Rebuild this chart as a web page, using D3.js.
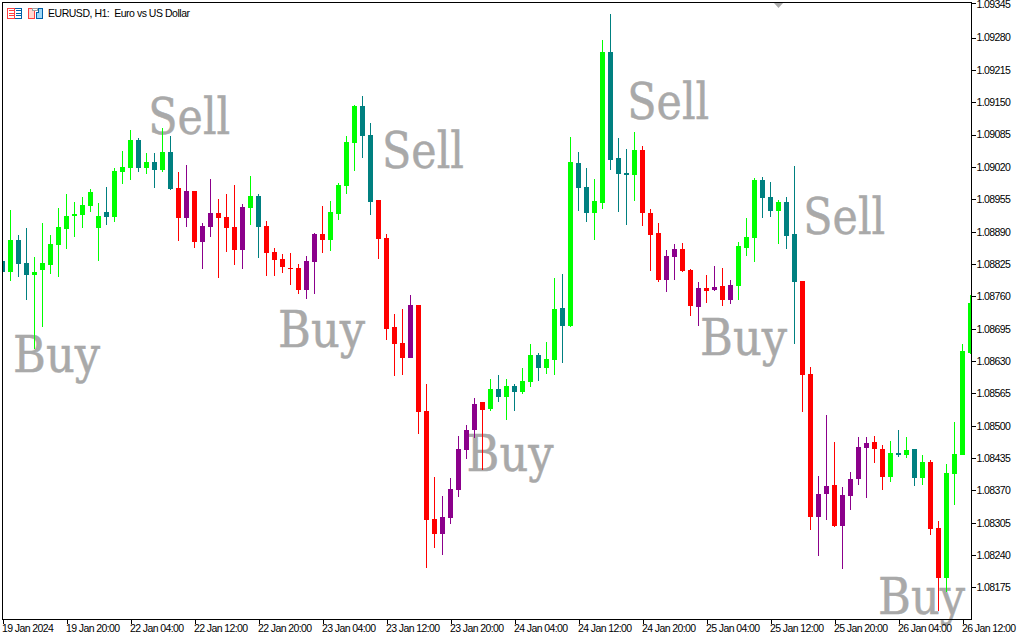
<!DOCTYPE html>
<html><head><meta charset="utf-8">
<script src="https://cdn.jsdelivr.net/npm/d3@7/dist/d3.min.js"></script>
<style>
html,body{margin:0;padding:0;background:#fff;overflow:hidden}
svg{display:block}
.tk text{font-family:"Liberation Sans",Arial,sans-serif;font-size:10.5px;fill:#000;letter-spacing:-.6px}
</style></head><body><svg id="c" width="1024" height="640"></svg>
<script>
const title = "EURUSD, H1:  Euro vs US Dollar";
const priceTicks = [1.08175,1.08240,1.08305,1.08370,1.08435,1.08500,1.08565,1.08630,1.08695,1.08760,1.08825,1.08890,1.08955,1.09020,1.09085,1.09150,1.09215,1.09280,1.09345];
const timeTickIndex = [0,8,16,24,32,40,48,56,64,72,80,88,96,104,112,120];
const timeTickLabels = ["19 Jan 2024","19 Jan 20:00","22 Jan 04:00","22 Jan 12:00","22 Jan 20:00","23 Jan 04:00","23 Jan 12:00","23 Jan 20:00","24 Jan 04:00","24 Jan 12:00","24 Jan 20:00","25 Jan 04:00","25 Jan 12:00","25 Jan 20:00","26 Jan 04:00","26 Jan 12:00"];
const states = ("t g t t g g g g g g g g g t g g g t g t g t "+
 "r p r p p r r r p g t r r r r r p p r g "+
 "g g g t t r r r r p r r r p p p p p r g "+
 "t g t g g t g g t g t t g g t t t g r r "+
 "r p p r r p r p r p g g g t t g t t r r "+
 "p p r p p p p r r g t g t g r r g g g g").split(" ");
const open = [1.08831,1.08809,1.08873,1.08827,1.08803,1.08813,1.08823,1.08863,1.08895,1.08921,1.08923,1.08941,1.08897,1.08929,1.08919,1.09010,1.09018,1.09074,1.09018,1.09030,1.09014,1.09050,
 1.08978,1.08917,1.08972,1.08869,1.08899,1.08927,1.08919,1.08899,1.08853,1.08937,1.08962,1.08901,1.08849,1.08835,1.08817,1.08817,1.08773,1.08829,1.08885,1.08873,
 1.08925,1.08982,1.09068,1.09142,1.09084,1.08953,1.08877,1.08698,1.08666,1.08636,1.08742,1.08529,1.08312,1.08282,1.08314,1.08371,1.08451,1.08491,1.08547,1.08533,
 1.08574,1.08558,1.08580,1.08568,1.08588,1.08642,1.08616,1.08632,1.08736,1.08700,1.09028,1.08980,1.08927,1.08947,1.09251,1.09038,1.09008,1.09004,1.09054,1.08927,
 1.08887,1.08793,1.08839,1.08855,1.08813,1.08738,1.08777,1.08773,1.08781,1.08753,1.08781,1.08857,1.08877,1.08994,1.08960,1.08931,1.08949,1.08885,1.08791,1.08604,
 1.08316,1.08363,1.08381,1.08298,1.08359,1.08393,1.08455,1.08467,1.08453,1.08397,1.08445,1.08441,1.08453,1.08395,1.08427,1.08294,1.08194,1.08403,1.08441,1.08646];
const high = [1.08843,1.08933,1.08883,1.08897,1.08839,1.08907,1.08883,1.08937,1.08966,1.08949,1.08960,1.08976,1.08947,1.08980,1.09018,1.09052,1.09094,1.09078,1.09048,1.09048,1.09098,1.09082,
 1.09010,1.09024,1.08972,1.08907,1.08996,1.08956,1.08966,1.08984,1.08945,1.09002,1.08966,1.08911,1.08857,1.08845,1.08847,1.08825,1.08841,1.08887,1.08941,1.08951,
 1.08988,1.09082,1.09144,1.09163,1.09108,1.08953,1.08885,1.08724,1.08734,1.08763,1.08742,1.08584,1.08397,1.08359,1.08395,1.08479,1.08501,1.08555,1.08547,1.08594,
 1.08602,1.08594,1.08584,1.08616,1.08664,1.08646,1.08668,1.08797,1.08805,1.09080,1.09050,1.09018,1.08996,1.09275,1.09327,1.09078,1.09056,1.09090,1.09062,1.08935,
 1.08907,1.08853,1.08865,1.08867,1.08815,1.08789,1.08803,1.08821,1.08817,1.08793,1.08869,1.08917,1.08998,1.09000,1.08990,1.08953,1.08960,1.09022,1.08791,1.08618,
 1.08399,1.08521,1.08467,1.08377,1.08407,1.08477,1.08477,1.08479,1.08461,1.08469,1.08491,1.08477,1.08453,1.08441,1.08431,1.08308,1.08423,1.08507,1.08664,1.08763];
const low = [1.08793,1.08791,1.08799,1.08753,1.08654,1.08698,1.08805,1.08799,1.08855,1.08879,1.08897,1.08929,1.08831,1.08903,1.08909,1.08986,1.08994,1.09010,1.09006,1.08978,1.09010,1.08974,
 1.08871,1.08899,1.08857,1.08815,1.08879,1.08797,1.08849,1.08823,1.08815,1.08903,1.08837,1.08801,1.08801,1.08807,1.08783,1.08765,1.08755,1.08765,1.08847,1.08851,
 1.08913,1.08966,1.09012,1.09038,1.08923,1.08835,1.08672,1.08600,1.08602,1.08636,1.08483,1.08214,1.08254,1.08240,1.08302,1.08357,1.08433,1.08475,1.08411,1.08529,
 1.08547,1.08511,1.08529,1.08564,1.08578,1.08590,1.08604,1.08602,1.08626,1.08698,1.08931,1.08909,1.08873,1.08935,1.09014,1.08929,1.08903,1.08951,1.08901,1.08811,
 1.08789,1.08769,1.08793,1.08809,1.08720,1.08700,1.08746,1.08771,1.08740,1.08744,1.08753,1.08841,1.08829,1.08917,1.08919,1.08865,1.08855,1.08664,1.08527,1.08290,
 1.08238,1.08310,1.08296,1.08212,1.08330,1.08381,1.08355,1.08425,1.08371,1.08387,1.08437,1.08435,1.08379,1.08381,1.08280,1.08127,1.08166,1.08340,1.08441,1.08644];
const close = [1.08809,1.08873,1.08825,1.08803,1.08809,1.08827,1.08865,1.08899,1.08921,1.08925,1.08943,1.08970,1.08921,1.08919,1.09012,1.09020,1.09074,1.09018,1.09030,1.09014,1.09050,1.08976,
 1.08917,1.08972,1.08869,1.08901,1.08927,1.08917,1.08897,1.08853,1.08939,1.08962,1.08899,1.08847,1.08833,1.08819,1.08815,1.08773,1.08831,1.08885,1.08873,1.08929,
 1.08984,1.09070,1.09142,1.09082,1.08949,1.08875,1.08694,1.08664,1.08636,1.08742,1.08527,1.08310,1.08282,1.08316,1.08373,1.08453,1.08491,1.08543,1.08531,1.08574,
 1.08558,1.08580,1.08568,1.08590,1.08642,1.08616,1.08634,1.08734,1.08700,1.09030,1.08978,1.08927,1.08951,1.09251,1.09034,1.09006,1.09004,1.09054,1.08927,1.08883,
 1.08793,1.08841,1.08855,1.08811,1.08740,1.08777,1.08771,1.08779,1.08753,1.08783,1.08861,1.08879,1.08994,1.08958,1.08931,1.08949,1.08881,1.08789,1.08602,1.08316,
 1.08363,1.08379,1.08298,1.08361,1.08393,1.08457,1.08465,1.08453,1.08397,1.08445,1.08441,1.08451,1.08395,1.08427,1.08292,1.08194,1.08405,1.08443,1.08650,1.08746];
const stateColor = {g:"#00ff00", t:"#008080", r:"#ff0000", p:"#8b008b"};
const noteTexts = ["Sell","Sell","Sell","Sell","Buy","Buy","Buy","Buy","Buy"];
const noteAt = [18.22,47.44,78.1,100.1,1.32,34.44,58.0,87.19,109.44];
const notePrice = [1.09086,1.09018,1.09117,1.08885,1.08608,1.08658,1.08409,1.08642,1.08121];
const noteWidth = {Sell:82, Buy:87};

const svg = d3.select("#c");
const x = d3.scaleLinear().domain([0,121]).range([2.5,970.5]);
const y = d3.scaleLinear().domain([1.08,1.09]).range([674.4,176.9]);
const plot = {l:3,t:3,r:971,b:619};
svg.append("defs").append("clipPath").attr("id","pc").append("rect").attr("x",plot.l).attr("y",plot.t).attr("width",plot.r-plot.l).attr("height",plot.b-plot.t);
svg.append("rect").attr("width",1024).attr("height",640).attr("fill","#fff");

// big labels, beneath the candles
svg.append("g").selectAll("text").data(noteTexts).join("text")
 .attr("x",(d,i)=>x(noteAt[i])).attr("y",(d,i)=>y(notePrice[i]))
 .attr("font-family","'DejaVu Serif',serif").attr("font-size",50).attr("fill","#a9a9a9")
 .attr("stroke","#a9a9a9").attr("stroke-width",0.5)
 .attr("textLength",d=>noteWidth[d]).attr("lengthAdjust","spacingAndGlyphs").text(d=>d);

const idx = d3.range(open.length);
const g = svg.append("g").attr("clip-path","url(#pc)").attr("shape-rendering","crispEdges");
g.selectAll("line.w").data(idx).join("line").attr("class","w")
 .attr("x1",i=>x(i)).attr("x2",i=>x(i)).attr("y1",i=>Math.round(y(high[i]))).attr("y2",i=>Math.round(y(low[i])))
 .attr("stroke",i=>stateColor[states[i]]).attr("stroke-width",1);
g.selectAll("rect.b").data(idx).join("rect").attr("class","b")
 .attr("x",i=>x(i)-2.5).attr("width",5)
 .attr("y",i=>Math.round(y(Math.max(open[i],close[i]))))
 .attr("height",i=>Math.max(1,Math.round(y(Math.min(open[i],close[i])))-Math.round(y(Math.max(open[i],close[i])))))
 .attr("fill",i=>stateColor[states[i]]);

// frame
const frame = svg.append("g").attr("shape-rendering","crispEdges").attr("stroke","#000").attr("fill","none");
frame.append("line").attr("x1",2.5).attr("x2",2.5).attr("y1",2).attr("y2",620);
frame.append("line").attr("x1",2).attr("x2",972).attr("y1",2.5).attr("y2",2.5);

// axes
const yAxis = d3.axisRight(y).tickValues(priceTicks).tickFormat(d3.format(".5f")).tickSize(4).tickPadding(1);
const gy = svg.append("g").attr("class","tk").attr("transform","translate(971.5,0)").attr("shape-rendering","crispEdges").call(yAxis);
gy.select(".domain").attr("d","M0,2V620").attr("stroke","#000");
const topTick = gy.selectAll(".tick").filter(d=>d===priceTicks[priceTicks.length-1]).attr("transform","translate(0,3.5)");
topTick.select("text").attr("y",1);

const xAxis = d3.axisBottom(x).tickValues(timeTickIndex).tickFormat((d,i)=>timeTickLabels[i]).tickSize(4).tickPadding(1);
const gx = svg.append("g").attr("class","tk").attr("transform","translate(0,619.5)").attr("shape-rendering","crispEdges").call(xAxis);
gx.select(".domain").attr("d","M2,0H972").attr("stroke","#000");
gx.selectAll("text").attr("text-anchor","start").attr("dx",-1);

// title and icons
svg.append("text").attr("x",48).attr("y",17).attr("font-family","'Liberation Sans',Arial,sans-serif").attr("font-size",10.5).attr("fill","#000").attr("textLength",142).attr("lengthAdjust","spacing").style("white-space","pre").text(title);
const ic = svg.append("g").attr("shape-rendering","crispEdges");
ic.append("rect").attr("x",7.5).attr("y",8.5).attr("width",14).attr("height",10).attr("fill","#fff").attr("stroke","#0060a8");
ic.append("rect").attr("x",7.5).attr("y",8.5).attr("width",7).attr("height",10).attr("fill","#fff").attr("stroke","#ff4040");
[10.5,13.5,15.5].forEach(v=>{
 ic.append("line").attr("x1",9).attr("x2",14).attr("y1",v).attr("y2",v).attr("stroke","#ff4040");
 ic.append("line").attr("x1",16).attr("x2",21).attr("y1",v).attr("y2",v).attr("stroke","#0060a8");
});
ic.append("path").attr("d","M28.5 8.5H34.5V18.5H28.5Z").attr("fill","#ffd8d0").attr("stroke","#ff4040");
ic.append("path").attr("d","M36.5 12.5L38.5 12.5V8.5H42.5V18.5H36.5Z").attr("fill","#a0d8f8").attr("stroke","#0060a8");
ic.append("rect").attr("x",32.5).attr("y",8.5).attr("width",5).attr("height",2).attr("fill","#fff").attr("stroke","#a0a0a0");

// chart-shift marker
svg.append("path").attr("d","M774 3H783L778.5 8Z").attr("fill","#aaaaaa");
</script></body></html>
